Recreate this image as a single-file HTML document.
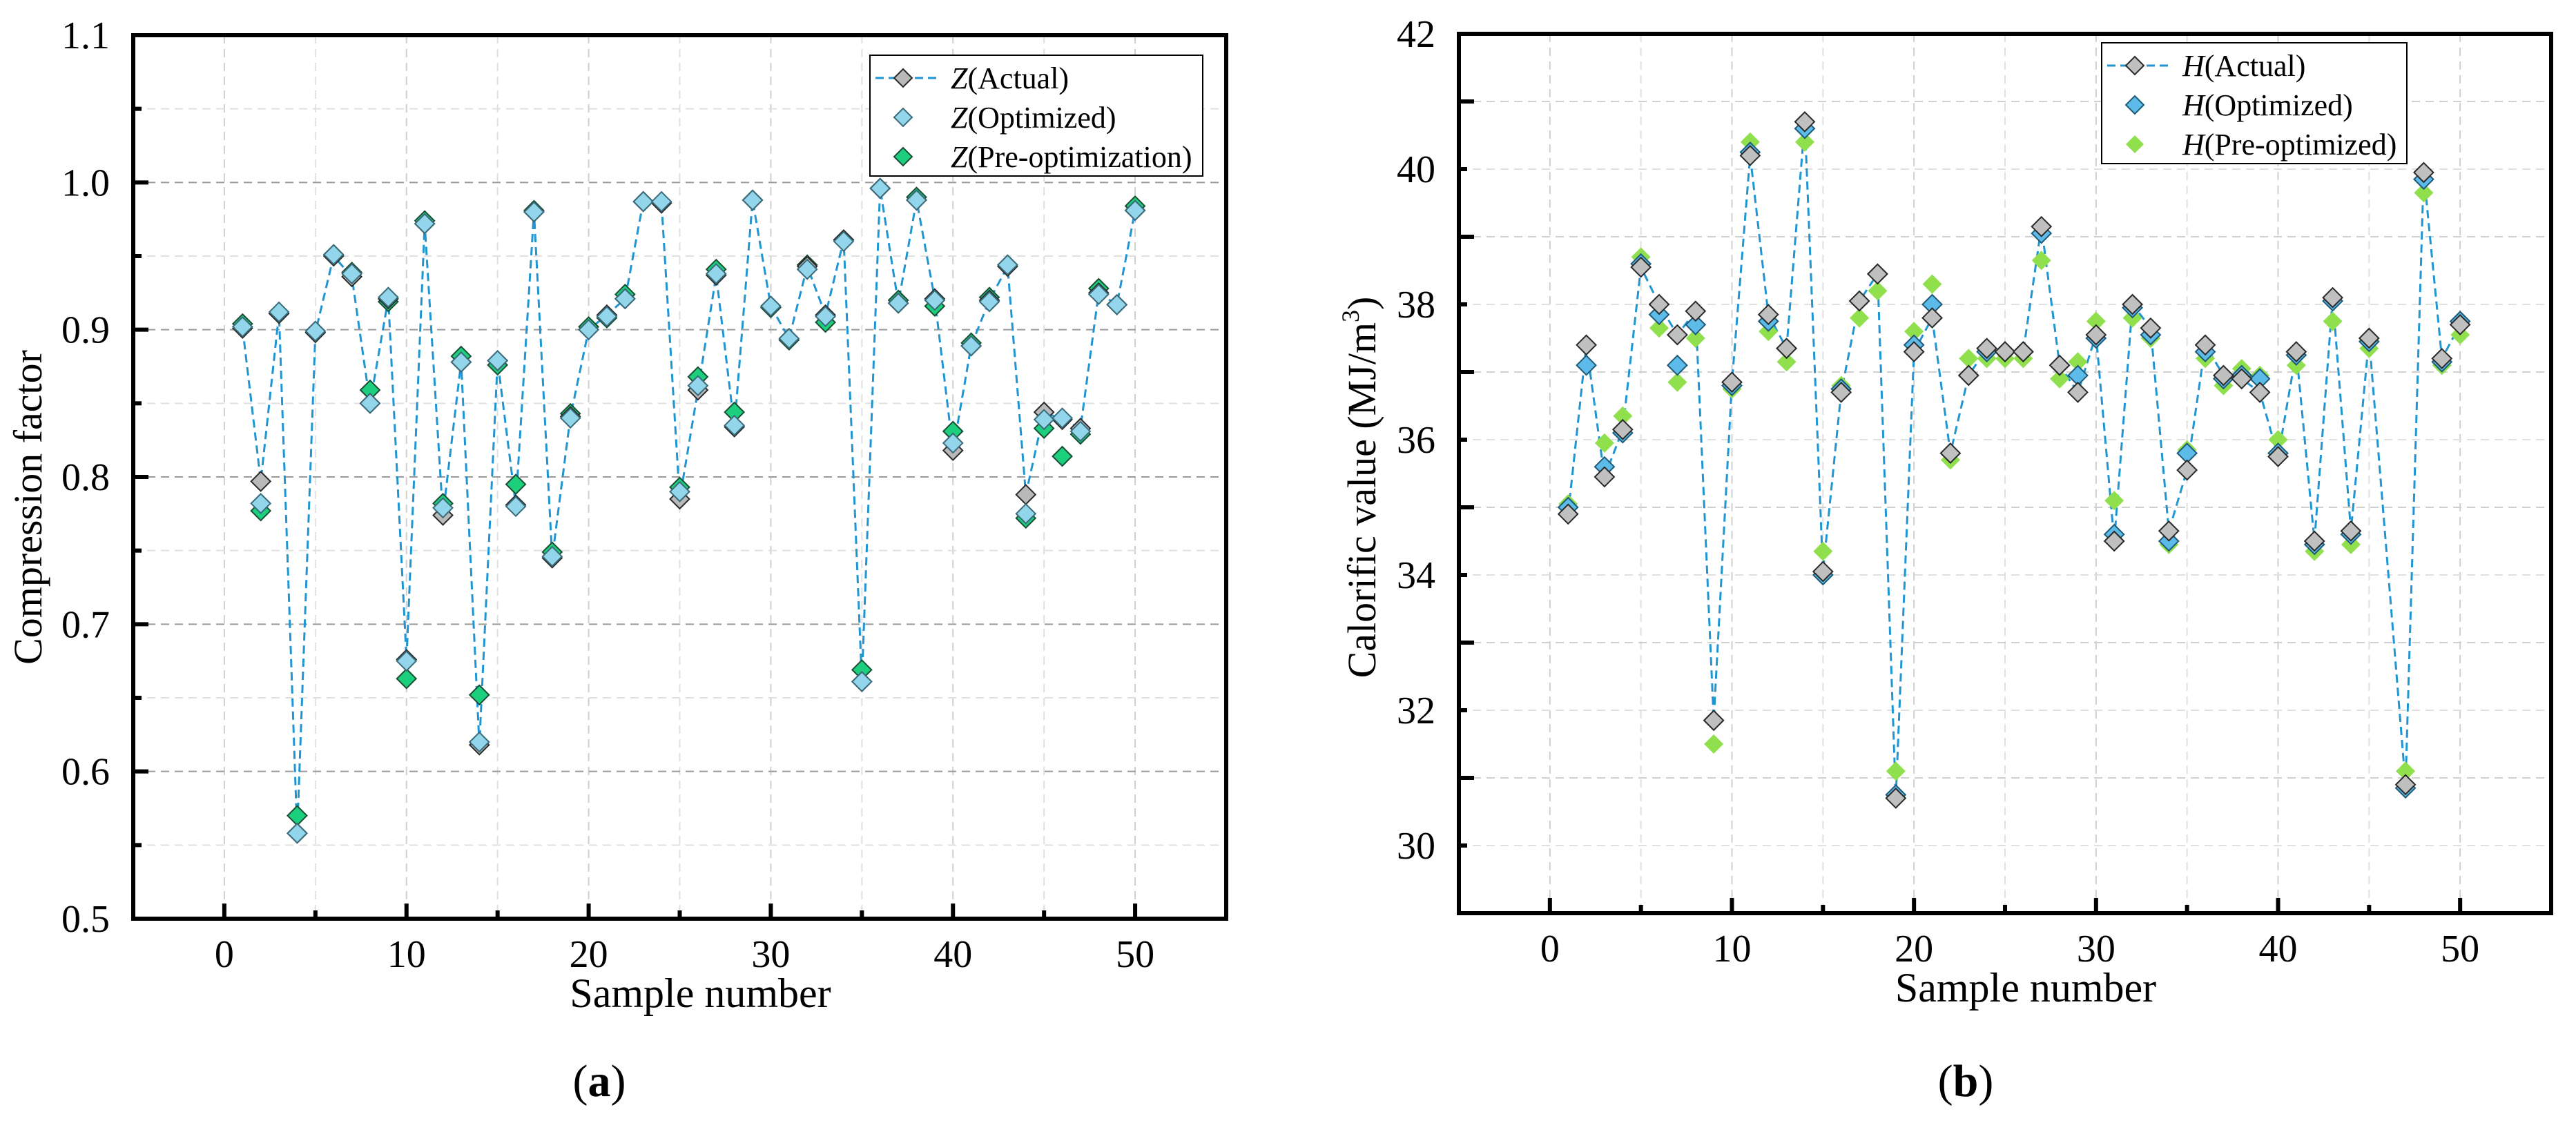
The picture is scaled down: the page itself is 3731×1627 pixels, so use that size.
<!DOCTYPE html>
<html><head><meta charset="utf-8"><style>
html,body{margin:0;padding:0;background:#fff;}
svg, svg text, svg tspan{font-family:"Liberation Serif","Times New Roman",serif !important;}
</style></head>
<body>
<svg id="fig" width="3731" height="1622" viewBox="0 0 3731 1622" xmlns="http://www.w3.org/2000/svg" font-family="Liberation Serif, serif"></svg>
<script>
const sampleNumbers = Array.from({length:50},(_,i)=>i+1);
const zActual = [0.901,0.797,0.911,0.558,0.898,0.950,0.936,0.850,0.921,0.676,0.972,0.774,0.878,0.618,0.879,0.781,0.980,0.745,0.841,0.900,0.910,0.921,0.987,0.986,0.785,0.859,0.937,0.834,0.988,0.916,0.894,0.943,0.910,0.961,0.661,0.996,0.918,0.988,0.921,0.818,0.889,0.920,0.943,0.788,0.844,0.839,0.833,0.925,0.917,0.981];
const zOptimized = [0.902,0.782,0.912,0.558,0.899,0.951,0.938,0.850,0.922,0.675,0.972,0.779,0.878,0.620,0.879,0.780,0.980,0.746,0.840,0.900,0.909,0.921,0.987,0.987,0.790,0.862,0.938,0.835,0.988,0.916,0.894,0.941,0.909,0.960,0.661,0.996,0.918,0.988,0.920,0.823,0.889,0.919,0.944,0.775,0.839,0.840,0.831,0.924,0.917,0.981];
const zPre = [0.904,0.777,0.911,0.570,0.899,0.951,0.939,0.859,0.919,0.663,0.974,0.782,0.882,0.652,0.876,0.795,0.981,0.749,0.843,0.902,0.908,0.924,0.987,0.986,0.793,0.868,0.941,0.844,0.988,0.915,0.893,0.944,0.905,0.961,0.669,0.996,0.920,0.990,0.916,0.831,0.891,0.922,0.944,0.772,0.833,0.814,0.829,0.928,0.917,0.984];
const hActual = [34.9,37.4,35.45,36.15,38.55,38.0,37.55,37.9,31.85,36.85,40.2,37.85,37.35,40.7,34.05,36.7,38.05,38.45,30.7,37.3,37.8,35.8,36.95,37.35,37.3,37.3,39.15,37.1,36.7,37.55,34.5,38.0,37.65,34.65,35.55,37.4,36.95,36.9,36.7,35.75,37.3,34.5,38.1,34.65,37.5,null,30.9,39.95,37.2,37.7];
const hOptimized = [35.0,37.1,35.6,36.1,38.6,37.85,37.1,37.7,31.85,36.8,40.25,37.75,37.35,40.6,34.0,36.75,38.05,38.45,30.75,37.4,38.0,35.8,36.95,37.3,37.3,37.3,39.05,37.1,36.95,37.5,34.6,37.95,37.55,34.5,35.8,37.3,36.9,36.95,36.9,35.8,37.25,34.45,38.05,34.6,37.45,null,30.85,39.85,37.15,37.75];
const hPre = [35.05,37.1,35.95,36.35,38.7,37.65,36.85,37.5,31.5,36.75,40.4,37.6,37.15,40.4,34.35,36.8,37.8,38.2,31.1,37.6,38.3,35.7,37.2,37.2,37.2,37.2,38.65,36.9,37.15,37.75,35.1,37.8,37.5,34.45,35.85,37.2,36.8,37.05,36.95,36.0,37.1,34.35,37.75,34.45,37.35,null,31.1,39.65,37.1,37.55];
const xTicks = [0,10,20,30,40,50];
const zTicks = ["0.5","0.6","0.7","0.8","0.9","1.0","1.1"];
const hTicks = ["30","32","34","36","38","40","42"];

const NS="http://www.w3.org/2000/svg";
const FF='"Liberation Serif", "Times New Roman", serif';
const svg=document.getElementById('fig');
function mk(tag,attrs,parent){const e=document.createElementNS(NS,tag);for(const k in attrs)e.setAttribute(k,attrs[k]);if(tag==='text')e.setAttribute('font-family',FF);(parent||svg).appendChild(e);return e;}

function panel(o){
  const g=mk('g',{});
  
  
  const xs=v=>o.L+(v-o.xmin)/(o.xmax-o.xmin)*(o.R-o.L);
  const ys=v=>o.B-(v-o.ymin)/(o.ymax-o.ymin)*(o.B-o.T);
  for(let v=0;v<=50;v+=5){
    const l=mk('line',{x1:xs(v),x2:xs(v),y1:o.T,y2:o.B,stroke:v%10?'#e0e0e0':'#cfcfcf','stroke-width':2,'stroke-dasharray':'12 8'},g);
    
    
  }
  for(let v=o.ymin+o.minor;v<o.ymax+1e-9;v+=o.minor){
    const maj=Math.abs(Math.round((v-o.ymin)/o.major)*o.major-(v-o.ymin))<1e-6;
    const l=mk('line',{x1:o.L,x2:o.R,y1:ys(v),y2:ys(v),stroke:maj?(o.darkGrid?'#9a9a9a':'#cfcfcf'):'#e0e0e0','stroke-width':2,'stroke-dasharray':'12 8'},g);
    
    
  }
  for(let v=0;v<=50;v+=5){
    const len=v%10?12:22;
    mk('line',{x1:xs(v),x2:xs(v),y1:o.B,y2:o.B-len,stroke:'#000','stroke-width':6},g);
  }
  for(let v=o.ymin;v<=o.ymax+1e-9;v+=o.minor){
    const maj=Math.abs(Math.round((v-o.ymin)/o.major)*o.major-(v-o.ymin))<1e-6;
    mk('line',{x1:o.L,x2:o.L+(maj?22:12),y1:ys(v),y2:ys(v),stroke:'#000','stroke-width':6},g);
  }
  const fr=mk('rect',{x:o.L,y:o.T,width:o.R-o.L,height:o.B-o.T,fill:'none',stroke:'#000','stroke-width':6},g);
  
  
  xTicks.forEach(v=>{
    const t=mk('text',{x:xs(v),y:o.B+70,'font-size':56,'text-anchor':'middle'},g);t.textContent=v;
    
    
  });
  o.yTicks.forEach(s=>{
    const v=parseFloat(s);
    const t=mk('text',{x:o.L-34,y:ys(v)+19,'font-size':56,'text-anchor':'end'},g);t.textContent=s;
    
    
  });
  const xt=mk('text',{x:(o.L+o.R)/2+30,y:o.B+128,'font-size':60,'text-anchor':'middle'},g);xt.textContent='Sample number';
  
  
  const yt=mk('text',{x:0,y:0,'font-size':58,'text-anchor':'middle',transform:`translate(${o.ytx},${o.yty}) rotate(-90)`},g);
  yt.innerHTML=o.ytitle;
  
  
  const cap=mk('text',{x:o.capx,y:1588,'font-size':66,'text-anchor':'middle'},g);
  cap.innerHTML=o.cap;
  
  
  let d='';let pen=false;
  sampleNumbers.forEach((n,i)=>{const v=o.series[0].vals[i];if(v==null){return;}d+=(pen?'L':'M')+xs(n).toFixed(1)+','+ys(v).toFixed(1);pen=true;});
  const pl=mk('path',{d:d,fill:'none',stroke:'#1f95d2','stroke-width':3,'stroke-dasharray':'12 7'},g);
  
  
  const dia=(cx,cy,r)=>`M${cx},${cy-r}L${cx+r},${cy}L${cx},${cy+r}L${cx-r},${cy}Z`;
  o.drawOrder.forEach(si=>{
    const s=o.series[si];
    sampleNumbers.forEach((n,i)=>{
      const v=s.vals[i];if(v==null)return;
      const p=mk('path',{d:dia(xs(n),ys(v),14),fill:s.fill,stroke:s.stroke,'stroke-width':s.stroke==='none'?0:2},g);
      
      
    });
  });
  const lg=mk('g',{},g);
  
  
  mk('rect',{x:o.lg.x,y:o.lg.y,width:o.lg.w,height:o.lg.h,fill:'#fff',stroke:'#000','stroke-width':2},lg);
  o.series.forEach((s,k)=>{
    const cy=o.lg.y+33+k*57;
    const mx=o.lg.x+48;
    const e=mk('g',{},lg);
    
    
    if(k===0) mk('line',{x1:o.lg.x+8,x2:o.lg.x+96,y1:cy,y2:cy,stroke:'#1f95d2','stroke-width':3,'stroke-dasharray':'12 7'},e);
    mk('path',{d:dia(mx,cy,13),fill:s.fill,stroke:s.stroke,'stroke-width':s.stroke==='none'?0:2},e);
    const t=mk('text',{x:o.lg.x+117,y:cy+15,'font-size':44},e);
    t.innerHTML=`<tspan font-style="italic">${o.letter}</tspan>(${s.label})`;
  });
}

panel({name:'panel-a',L:193,R:1776,T:51,B:1331,xmin:-5,xmax:55,ymin:0.5,ymax:1.1,major:0.1,minor:0.05,darkGrid:true,
  yTicks:zTicks,ytx:60,yty:735,ytitle:'Compression factor',capx:868,cap:'(<tspan font-weight="bold">a</tspan>)',
  letter:'Z',lg:{x:1260,y:80,w:482,h:175},drawOrder:[2,0,1],
  series:[{key:'z-actual',label:'Actual',vals:zActual,fill:'#b9b9b9',stroke:'#2a2a2a'},
          {key:'z-optimized',label:'Optimized',vals:zOptimized,fill:'#93d5ea',stroke:'#3a6b7a'},
          {key:'z-pre-optimization',label:'Pre-optimization',vals:zPre,fill:'#1ccf7c',stroke:'#1b4d35'}]});

panel({name:'panel-b',L:2113,R:3695,T:49,B:1323,xmin:-5,xmax:55,ymin:29,ymax:42,major:2,minor:1,darkGrid:false,
  yTicks:hTicks,ytx:1992,yty:706,ytitle:'Calorific value (MJ/m<tspan font-size="36" dy="-24">3</tspan><tspan dy="24">)</tspan>',capx:2847,cap:'(<tspan font-weight="bold">b</tspan>)',
  letter:'H',lg:{x:3044,y:62,w:442,h:175},drawOrder:[2,1,0],
  series:[{key:'h-actual',label:'Actual',vals:hActual,fill:'#c0c0c0',stroke:'#2a2a2a'},
          {key:'h-optimized',label:'Optimized',vals:hOptimized,fill:'#5cbbe8',stroke:'#1f5a78'},
          {key:'h-pre-optimized',label:'Pre-optimized',vals:hPre,fill:'#8fe04c',stroke:'none'}]});
</script>
</body></html>
